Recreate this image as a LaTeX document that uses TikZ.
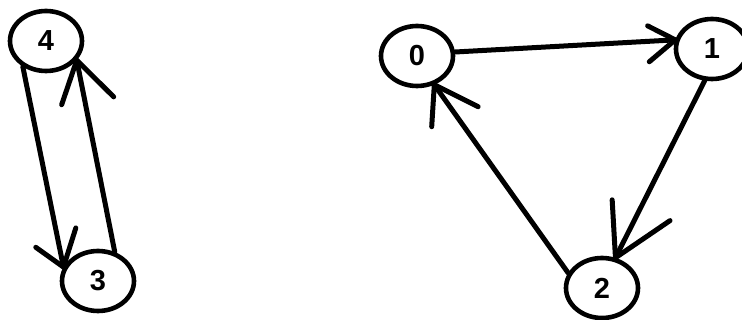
\documentclass[tikz,border=0pt]{standalone}
\usepackage{fontspec}
\setmainfont{Liberation Sans}
\usetikzlibrary{shapes.geometric,calc}
\begin{document}
\begin{tikzpicture}[x=1pt,y=-1pt,
  vertex/.style={ellipse,draw,line width=4.6pt,minimum width=72pt,minimum height=60pt,inner sep=0pt,font=\fontsize{29}{30}\selectfont\bfseries},
  edge/.style={line width=5pt,line cap=round},
  barb/.style={line width=5pt,line cap=round,line join=round}]
\useasboundingbox (0,0) rectangle (742,320);
\node[vertex] (n4) at (46,41) {4};
\node[vertex] (n3) at (98,281) {3};
\node[vertex] (n0) at (417,56) {0};
\node[vertex] (n1) at (712,49) {1};
\node[vertex] (n2) at (602,288) {2};
% 4 -> 3
\draw[edge] (n4.228) -- (n3.158);
\draw[barb] ($(n3.158)!34pt!43:(n4.228)$) -- (n3.158) -- ($(n3.158)!41pt!-29:(n4.228)$);
% 3 -> 4
\draw[edge] (n3.60) -- (n4.328);
\draw[barb] ($(n4.328)!47pt!-30:(n3.60)$) -- (n4.328) -- ($(n4.328)!52pt!34:(n3.60)$);
% 0 -> 1
\draw[edge] (n0.6) -- (n1.166);
\draw[barb] ($(n1.166)!31pt!-30:(n0.6)$) -- (n1.166) -- ($(n1.166)!34pt!37:(n0.6)$);
% 1 -> 2
\draw[edge] (n1.257) -- (n2.66);
\draw[barb] ($(n2.66)!58pt!30:(n1.257)$) -- (n2.66) -- ($(n2.66)!66pt!-29:(n1.257)$);
% 2 -> 0
\draw[edge] (n2.156) -- (n0.301);
\draw[barb] ($(n0.301)!42pt!-39:(n2.156)$) -- (n0.301) -- ($(n0.301)!49pt!28:(n2.156)$);
\end{tikzpicture}
\end{document}
